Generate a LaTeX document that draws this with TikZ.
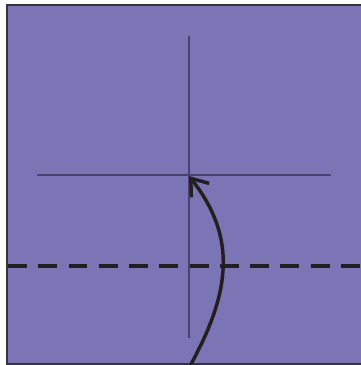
\documentclass[tikz,border=0pt]{standalone}
\usetikzlibrary{arrows.meta}
\definecolor{paper}{RGB}{123,116,181}
\definecolor{edgegray}{RGB}{55,53,60}
\definecolor{creasecol}{RGB}{72,66,110}
\definecolor{inkblack}{RGB}{35,31,32}
\tikzset{
  sheet/.style={fill=paper, draw=edgegray, line width=1.6pt},
  crease/.style={draw=creasecol, line width=0.9pt},
  valley/.style={draw=inkblack, line width=2.9pt, dash pattern=on 14.2pt off 8.5pt},
  foldarrow/.style={draw=inkblack, line width=2.6pt, -{Straight Barb[length=11.5pt,width=17pt,line width=2.6pt]}}
}
\begin{document}
\begin{tikzpicture}[x=0.75pt,y=-0.75pt]
\useasboundingbox (0,0) rectangle (361,365);
\fill[white] (0,0) rectangle (361,365);
\draw[sheet] (7,5) rectangle (368,364);
% crease lines
\coordinate (vt) at (189,36);
\coordinate (vb) at (189,338);
\coordinate (hl) at (37,175);
\coordinate (hr) at (331,175);
\draw[crease] (vt) -- (vb);
\draw[crease] (hl) -- (hr);
% valley fold line
\coordinate (dl) at (8,266);
\coordinate (dr) at (365,266);
\draw[valley] (dl) -- (dr);
% fold arrow
\coordinate (as) at (190,366);
\coordinate (ae) at (189,176);
\draw[foldarrow] (as) .. controls (232,290) and (236,236) .. (ae);
\end{tikzpicture}
\end{document}
